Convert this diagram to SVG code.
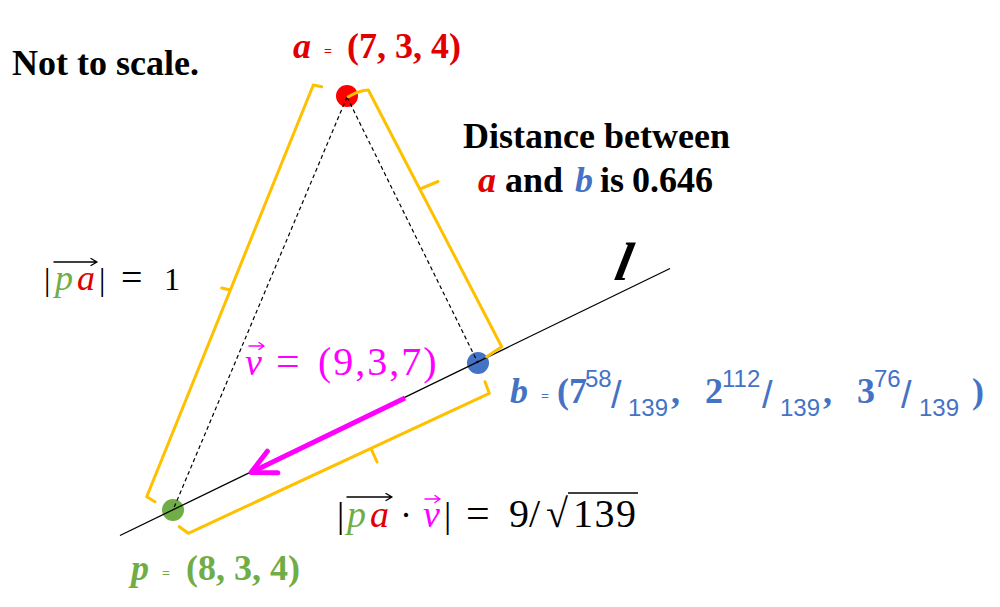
<svg xmlns="http://www.w3.org/2000/svg" width="1000" height="607" viewBox="0 0 1000 607">
<defs>
<style>
.bod{font-family:"Liberation Serif","Times New Roman",serif;font-weight:bold;font-size:36px}
.it{font-style:italic}
.math{font-family:"Liberation Serif","Times New Roman",serif;font-weight:normal}
.sans{font-family:"Liberation Sans",Arial,sans-serif;font-weight:normal}
.br{fill:none;stroke:#ffc000;stroke-width:3;stroke-linecap:round;stroke-linejoin:round}
.dash{fill:none;stroke:#000;stroke-width:1.2;stroke-dasharray:4 3}
.vk{fill:none;stroke:#000;stroke-width:1.4;stroke-linecap:round;stroke-linejoin:round}
.vm{fill:none;stroke:#ff00ff;stroke-width:1.4;stroke-linecap:round;stroke-linejoin:round}
</style>
<marker id="ah" markerUnits="userSpaceOnUse" markerWidth="40" markerHeight="40" viewBox="-30 -20 40 40" refX="0" refY="0" orient="auto" overflow="visible">
<path d="M-24 -12 L0 0 L-24 12" fill="none" stroke="#ff00ff" stroke-width="5" stroke-linecap="round" stroke-linejoin="round"/>
</marker>
</defs>
<rect width="1000" height="607" fill="#fff"/>

<g id="point-a"><circle cx="347" cy="96" r="11" fill="#ff0000"/></g>
<g id="point-b"><circle cx="478" cy="363" r="11" fill="#4472c4"/></g>
<g id="point-p"><circle cx="173" cy="510" r="11" fill="#70ad47"/></g>

<g id="connectors">
<line x1="120" y1="535.5" x2="670" y2="268.5" stroke="#000" stroke-width="1.3"/>
<line class="dash" x1="347" y1="97" x2="173" y2="510"/>
<line class="dash" x1="347" y1="97" x2="478" y2="363"/>
<path class="br" d="M321.7 86.7 L313.3 85 L146.7 496.7 L155 501.7 M230.3 290 L221.7 288"/>
<path class="br" d="M348.3 96.7 Q360 90 368.3 90 L501.7 346.7 L486.7 356.7 M420 189 L438 181.5"/>
<path class="br" d="M485 381.7 L489.3 393.3 L188.3 533.3 L179.3 526.7 M371 448.3 L377 462"/>
<path d="M405 398 L251 472.5" fill="none" stroke="#ff00ff" stroke-width="5" marker-end="url(#ah)"/>
</g>

<g id="note-scale"><text class="bod" x="12" y="75">Not to scale.</text></g>

<g id="label-a" fill="#e00000">
<text class="bod"><tspan class="it" x="293" y="58">a</tspan><tspan x="324" y="56" font-size="14">=</tspan><tspan x="347" y="58">(7, 3, 4)</tspan></text>
</g>

<g id="note-distance">
<text class="bod" x="463" y="148">Distance between</text>
<text class="bod" y="192"><tspan class="it" x="478" fill="#e00000">a</tspan><tspan x="505">and</tspan><tspan class="it" x="575" fill="#4472c4">b</tspan><tspan x="600">is</tspan><tspan x="632">0.646</tspan></text>
</g>

<g id="label-l"><text class="it" x="0" y="0" style="font-family:'Liberation Serif',serif;font-weight:bold;font-size:54px" transform="translate(613 280) skewX(-12)">l</text></g>

<g id="label-pa">
<text class="math" font-size="32" y="290"><tspan x="44">|</tspan><tspan x="55" font-size="36" font-style="italic" fill="#70ad47">p</tspan><tspan x="77" font-size="36" font-style="italic" fill="#e00000">a</tspan><tspan x="99">|</tspan><tspan x="121" font-size="38">=</tspan><tspan x="164">1</tspan></text>
<path class="vk" d="M54 262 H97 M91 258.5 L97 262 L91 265.5"/>
</g>

<g id="label-v" fill="#ff00ff">
<text class="math" font-size="38" y="375"><tspan x="245" font-style="italic">v</tspan><tspan x="276" font-size="42">=</tspan><tspan x="318" font-size="40" letter-spacing="2">(9,3,7)</tspan></text>
<path class="vm" d="M249 346 H264 M259 342.5 L264 346 L259 349.5"/>
</g>

<g id="label-b" fill="#4472c4">
<text class="bod"><tspan class="it" x="510" y="403">b</tspan><tspan x="541" y="401" font-size="14">=</tspan><tspan x="557" y="403">(</tspan><tspan x="569" y="403">7</tspan><tspan class="sans" x="585" y="387" font-size="24">58</tspan><tspan class="sans" x="611" y="408" font-size="38">/</tspan><tspan class="sans" x="628" y="416" font-size="24">139</tspan><tspan x="671" y="403">,</tspan><tspan x="705" y="403">2</tspan><tspan class="sans" x="722" y="387" font-size="24">112</tspan><tspan class="sans" x="762" y="408" font-size="38">/</tspan><tspan class="sans" x="780" y="416" font-size="24">139</tspan><tspan x="823" y="403">,</tspan><tspan x="857" y="403">3</tspan><tspan class="sans" x="874" y="387" font-size="24">76</tspan><tspan class="sans" x="901" y="408" font-size="38">/</tspan><tspan class="sans" x="919" y="416" font-size="24">139</tspan><tspan x="972" y="403">)</tspan></text>
</g>

<g id="label-dot">
<text class="math" font-size="36" y="527"><tspan x="337">|</tspan><tspan x="347" font-size="38" font-style="italic" fill="#70ad47">p</tspan><tspan x="370" font-size="38" font-style="italic" fill="#e00000">a</tspan><tspan x="400">·</tspan><tspan x="423" font-size="38" font-style="italic" fill="#ff00ff">v</tspan><tspan x="444">|</tspan><tspan x="466" font-size="42">=</tspan><tspan x="509" font-size="40">9</tspan><tspan x="529" font-size="40">/</tspan><tspan x="546" font-size="40">√</tspan><tspan x="573" font-size="40" letter-spacing="1.5">139</tspan></text>
<path class="vk" d="M347 497 H392 M386 493.5 L392 497 L386 500.5"/>
<path class="vm" d="M425 499 H440 M435 495.5 L440 499 L435 502.5"/>
<path d="M568 493 H638" stroke="#000" stroke-width="1.6" fill="none"/>
</g>

<g id="label-p" fill="#70ad47">
<text class="bod"><tspan class="it" x="131" y="580">p</tspan><tspan x="162" y="578" font-size="14">=</tspan><tspan x="186" y="580">(8, 3, 4)</tspan></text>
</g>
</svg>
